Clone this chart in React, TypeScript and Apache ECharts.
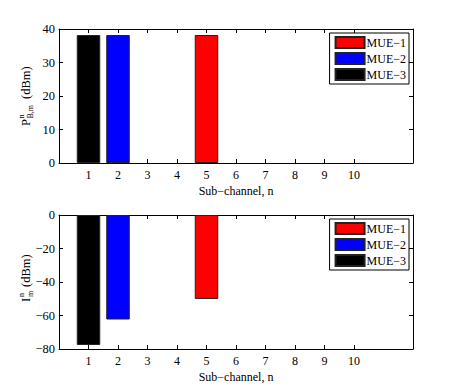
import React, { useEffect, useRef } from "react";
import * as echarts from "echarts";

const subChannels = [1, 2, 3, 4, 5, 6, 7, 8, 9, 10];
const seriesNames = ["MUE−1", "MUE−2", "MUE−3"];
const seriesColors = ["#ff0000", "#0000ff", "#000000"];
const allocatedChannel = [5, 2, 1];
const txPower = [38.2, 38.2, 38.2];
const interference = [-50.1, -62.4, -77.6];

const FONT = "Liberation Serif";

function fmt(v: number) {
  return v < 0 ? "−" + Math.abs(v) : String(v);
}

export default function App() {
  const ref = useRef<HTMLDivElement>(null);
  useEffect(() => {
    if (!ref.current) return;
    const chart = echarts.init(ref.current, undefined, { renderer: "svg" });
    const lineStyle = { color: "#000", width: 1 };
    const tickBase = {
      show: true,
      inside: true,
      length: 4,
      lineStyle: { color: "#000", width: 1 },
    };
    const mkX = (gridIndex: number) => [
      {
        type: "value",
        gridIndex,
        min: 0,
        max: 12,
        interval: 1,
        position: "bottom",
        axisLine: { show: true, onZero: false, lineStyle },
        axisTick: { ...tickBase, customValues: subChannels },
        axisLabel: {
          show: true,
          customValues: subChannels,
          color: "#000",
          fontFamily: FONT,
          fontSize: 12,
          margin: 6,
        },
        splitLine: { show: false },
        name: "Sub−channel, n",
        nameLocation: "middle",
        nameGap: 22,
        nameTextStyle: { color: "#000", fontFamily: FONT, fontSize: 12 },
      },
      {
        type: "value",
        gridIndex,
        min: 0,
        max: 12,
        interval: 1,
        position: "top",
        axisLine: { show: true, onZero: false, lineStyle },
        axisTick: { ...tickBase, customValues: subChannels },
        axisLabel: { show: false },
        splitLine: { show: false },
      },
    ];
    const mkY = (gridIndex: number, min: number, max: number, interval: number) => [
      {
        type: "value",
        gridIndex,
        min,
        max,
        interval,
        position: "left",
        axisLine: { show: true, onZero: false, lineStyle },
        axisTick: { ...tickBase },
        axisLabel: {
          show: true,
          color: "#000",
          fontFamily: FONT,
          fontSize: 12.5,
          margin: 4,
          formatter: (v: number) => fmt(v),
        },
        splitLine: { show: false },
      },
      {
        type: "value",
        gridIndex,
        min,
        max,
        interval,
        position: "right",
        axisLine: { show: true, onZero: false, lineStyle },
        axisTick: { ...tickBase },
        axisLabel: { show: false },
        splitLine: { show: false },
      },
    ];

    const series: any[] = [];
    seriesNames.forEach((name, i) => {
      series.push({
        type: "bar",
        name,
        xAxisIndex: 0,
        yAxisIndex: 0,
        barWidth: 23.5,
        barGap: "-100%",
        itemStyle: { color: seriesColors[i], borderColor: "#222", borderWidth: 1 },
        data: [[allocatedChannel[i], txPower[i]]],
      });
    });
    seriesNames.forEach((name, i) => {
      series.push({
        type: "bar",
        name,
        xAxisIndex: 2,
        yAxisIndex: 2,
        barWidth: 23.5,
        barGap: "-100%",
        itemStyle: { color: seriesColors[i], borderColor: "#222", borderWidth: 1 },
        data: [[allocatedChannel[i], interference[i]]],
      });
    });

    const legendBase = {
      orient: "vertical",
      right: 48,
      data: seriesNames,
      icon: "rect",
      itemWidth: 29,
      itemHeight: 11,
      itemGap: 3,
      padding: [3, 3, 3, 5],
      borderColor: "#000",
      borderWidth: 1,
      backgroundColor: "#fff",
      textStyle: { color: "#000", fontFamily: FONT, fontSize: 12, padding: [0, 0, 0, -3] },
      selectedMode: false,
    };

    const label = (
      cx: number,
      cy: number,
      main: string,
      sup: string,
      sub: string,
      start: number,
      scriptX: number,
      unitX: number
    ) => ({
      type: "group",
      x: cx,
      y: cy,
      rotation: Math.PI / 2,
      children: [
        {
          type: "text",
          x: start,
          y: 0,
          style: { text: main, font: `12.5px ${FONT}`, fill: "#000", verticalAlign: "middle", align: "left" },
        },
        {
          type: "text",
          x: scriptX,
          y: -5,
          style: { text: sup, font: `8px ${FONT}`, fill: "#000", verticalAlign: "middle", align: "left" },
        },
        {
          type: "text",
          x: scriptX,
          y: 4,
          style: { text: sub, font: `8px ${FONT}`, fill: "#000", verticalAlign: "middle", align: "left" },
        },
        {
          type: "text",
          x: unitX,
          y: 0,
          style: { text: "(dBm)", font: `12.5px ${FONT}`, fill: "#000", verticalAlign: "middle", align: "left" },
        },
      ],
    });

    chart.setOption({
      animation: false,
      backgroundColor: "#fff",
      grid: [
        { left: 59, top: 29, width: 354, height: 134, show: false },
        { left: 59, top: 215, width: 354, height: 134, show: false },
      ],
      xAxis: [...mkX(0), ...mkX(1)],
      yAxis: [...mkY(0, 0, 40, 10), ...mkY(1, -80, 0, 20)],
      legend: [
        { ...legendBase, top: 33 },
        { ...legendBase, top: 219 },
      ],
      graphic: [
        label(26, 96, "P", "n", "B,m", -30, -22.5, -3),
        label(26, 280, "I", "n", "m", -22, -17, -7),
      ],
      series,
    });
    return () => chart.dispose();
  }, []);
  return (
    <div
      ref={ref}
      style={{ position: "absolute", left: 0, top: 0, width: 457, height: 392 }}
    />
  );
}
